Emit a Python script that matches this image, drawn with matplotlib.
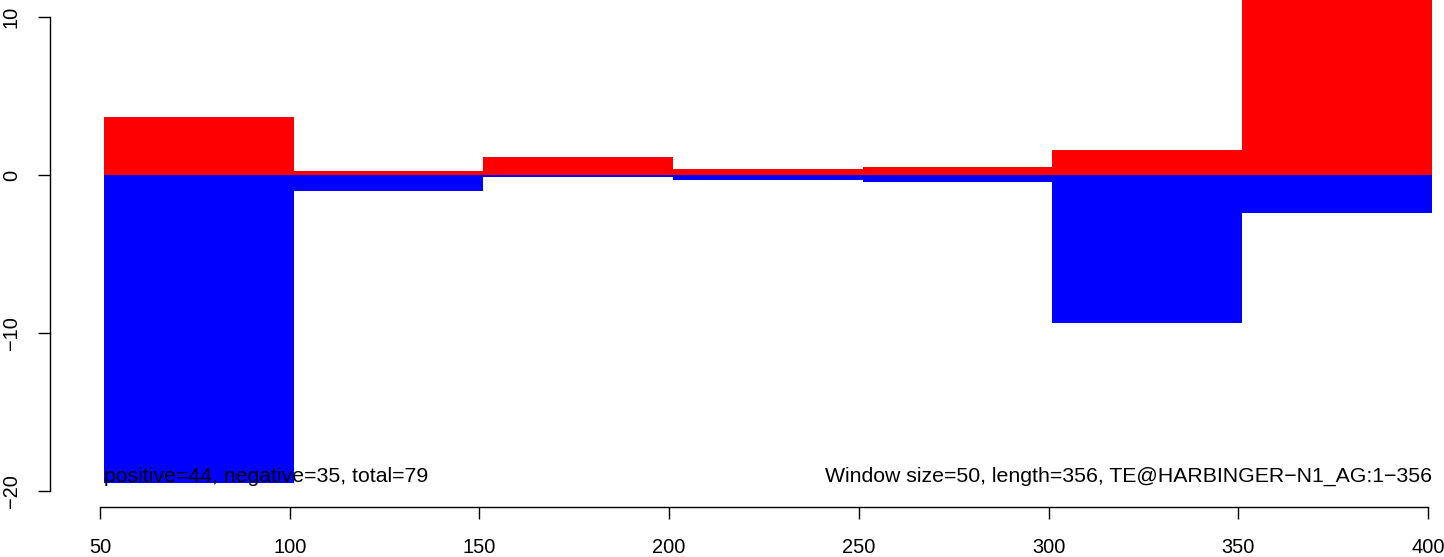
import matplotlib
matplotlib.use("Agg")
import matplotlib.pyplot as plt

# window starts (window size 50) and the positive / negative scores
win_start = [51, 101, 151, 201, 251, 301, 351]
positive = [3.67, 0.25, 1.16, 0.38, 0.51, 1.58, 12.0]
negative = [-19.47, -1.01, -0.10, -0.32, -0.44, -9.37, -2.38]

x_ticks = [50, 100, 150, 200, 250, 300, 350, 400]
y_ticks = [-20, -10, 0, 10]

left_text = "positive=44, negative=35, total=79"
right_text = "Window size=50, length=356, TE@HARBINGER\u2212N1_AG:1\u2212356"

plt.rcParams['font.family'] = ['Liberation Sans', 'DejaVu Sans']

fig = plt.figure(figsize=(14.44, 5.57), dpi=100)
ax = fig.add_axes([50 / 1444, 50 / 557, 1394 / 1444, 507 / 557])

ax.bar(win_start, positive, width=50, align='edge', color='red', linewidth=0)
ax.bar(win_start, negative, width=50, align='edge', color='blue', linewidth=0)

ax.set_xlim(36.82, 404.24)
ax.set_ylim(-21.01, 11.08)

for s in ['top', 'right']:
    ax.spines[s].set_visible(False)
ax.spines['bottom'].set_bounds(50, 400)
ax.spines['left'].set_bounds(-20, 10)
for s in ['bottom', 'left']:
    ax.spines[s].set_linewidth(1.0)

ax.set_xticks(x_ticks)
ax.set_xticklabels([str(v) for v in x_ticks])
ax.set_yticks(y_ticks)
ax.set_yticklabels(["\u221220", "\u221210", "0", "10"], rotation=90, va='center')
ax.tick_params(axis='both', direction='out', length=8.6, width=1.0, labelsize=14.4)
ax.tick_params(axis='x', pad=13.8)
ax.tick_params(axis='y', pad=12.3)

ax.text(51, -19.41, left_text, ha='left', va='baseline', fontsize=15.3)
ax.text(401, -19.41, right_text, ha='right', va='baseline', fontsize=15.3)

fig.savefig("out.png", dpi=100)
